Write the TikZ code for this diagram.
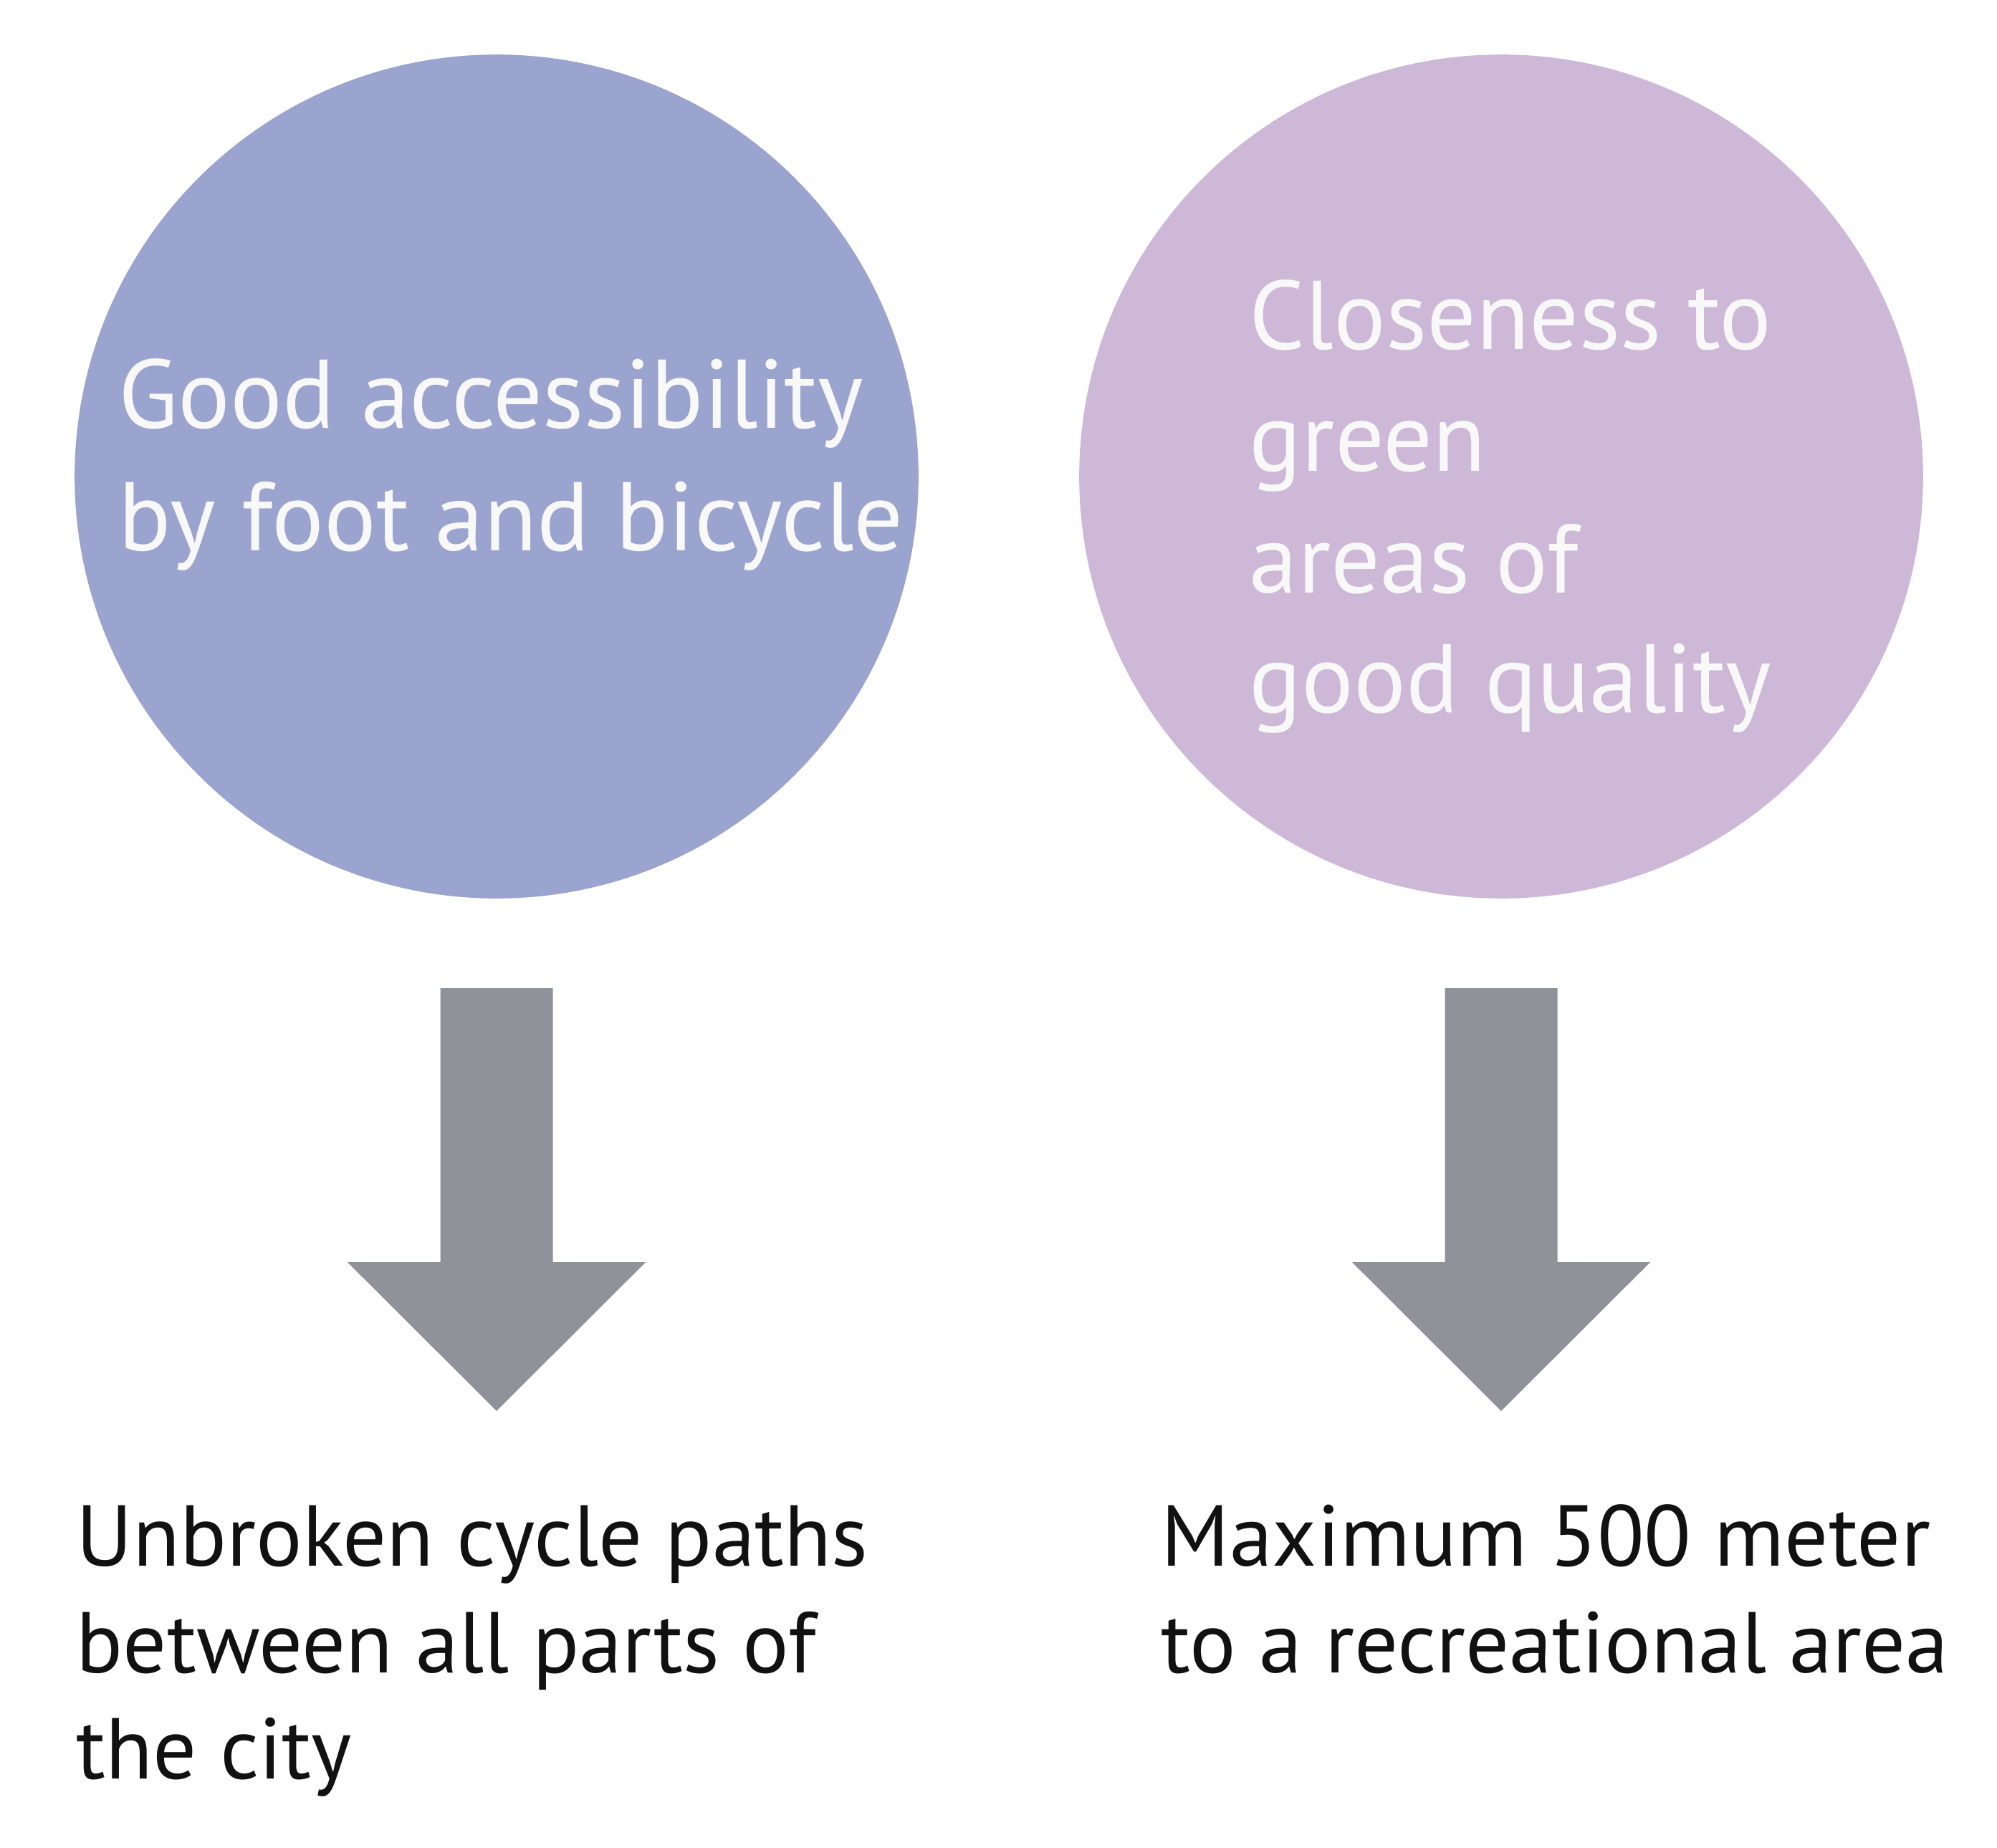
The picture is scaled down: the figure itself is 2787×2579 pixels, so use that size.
\documentclass[tikz,border=0pt]{standalone}
\usepackage{fontspec}
\setmainfont{PT Sans}
\usetikzlibrary{calc}
\definecolor{bluecirc}{RGB}{155,164,206}
\definecolor{lilaccirc}{RGB}{205,185,215}
\definecolor{arrowgray}{RGB}{143,146,153}
\definecolor{softwhite}{RGB}{248,248,248}
\definecolor{darktext}{RGB}{17,17,17}
\tikzset{
  bubble/.style={circle, minimum size=11.77cm, inner sep=0pt, draw=none},
  intext/.style={anchor=base west, inner sep=0pt, text=softwhite, font=\fontsize{38.7pt}{46pt}\selectfont},
  outtext/.style={anchor=base west, inner sep=0pt, text=darktext, font=\fontsize{34.3pt}{40pt}\selectfont},
  blockarrow/.style={fill=arrowgray, draw=none}
}
\begin{document}
\begin{tikzpicture}[x=0.01cm, y=-0.01cm]
\useasboundingbox[fill=white] (0,0) rectangle (2787,2579);
% circles
\node[bubble, fill=bluecirc] (c1) at (693,665) {};
\node[bubble, fill=lilaccirc] (c2) at (2095,665) {};
% circle texts
\node[intext] (t1a) at (165,598) {Good accessibility};
\node[intext] (t1b) at (165,768) {by foot and bicycle};
\node[intext] (t2a) at (1743,488) {Closeness to};
\node[intext] (t2b) at (1743,657) {green};
\node[intext] (t2c) at (1743,827) {areas of};
\node[intext] (t2d) at (1743,994) {good quality};
% block arrows
\fill[blockarrow] (c1.south) ++(-78.5,124.5) -- ++(157,0) -- ++(0,382) -- ++(130,0)
   -- ++(-208.5,208) -- ++(-208.5,-208) -- ++(130,0) -- cycle;
\fill[blockarrow] (c2.south) ++(-78.5,124.5) -- ++(157,0) -- ++(0,382) -- ++(130,0)
   -- ++(-208.5,208) -- ++(-208.5,-208) -- ++(130,0) -- cycle;
% bottom texts
\node[outtext] (b1a) at (106,2185) {Unbroken cycle paths};
\node[outtext] (b1b) at (106,2334) {between all parts of};
\node[outtext] (b1c) at (106,2482) {the city};
\node[outtext] (b2a) at (1620,2185) {Maximum 500 meter};
\node[outtext] (b2b) at (1620,2334) {to a recreational area};
\end{tikzpicture}
\end{document}
